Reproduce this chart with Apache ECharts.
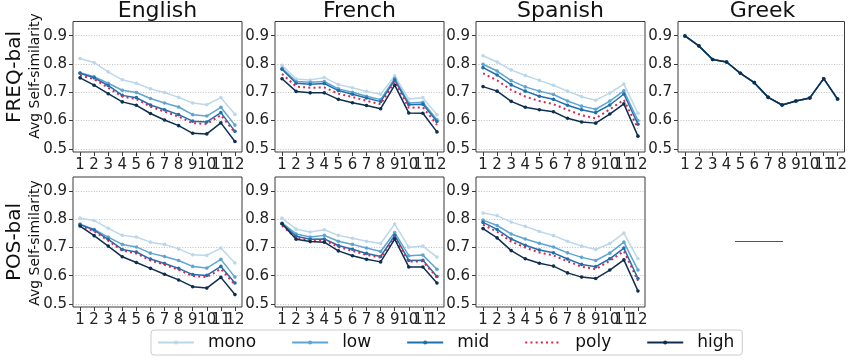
<!DOCTYPE html>
<html>
<head>
<meta charset="utf-8">
<script src="https://cdn.jsdelivr.net/npm/echarts@6/dist/echarts.min.js"></script>
<style>
html,body{margin:0;padding:0;background:#fff;}
#chart{width:850px;height:360px;}
</style>
</head>
<body>
<div id="chart"></div>
<script>
// ---------- data ----------
const categories = ['1','2','3','4','5','6','7','8','9','10','11','12'];
const yTickValues = [0.5, 0.6, 0.7, 0.8, 0.9];
const seriesNames = ['mono', 'low', 'mid', 'poly', 'high'];
const languages = ['English', 'French', 'Spanish', 'Greek'];
const rowLabels = ['FREQ-bal', 'POS-bal'];
const yLabelText = 'Avg Self-similarity';

// FREQ-bal
const freqEnglishMono = [0.819,0.805,0.772,0.744,0.732,0.712,0.699,0.682,0.662,0.656,0.681,0.622];
const freqEnglishLow  = [0.769,0.755,0.732,0.707,0.699,0.678,0.662,0.648,0.621,0.616,0.647,0.584];
const freqEnglishMid  = [0.767,0.751,0.724,0.689,0.681,0.655,0.638,0.621,0.598,0.595,0.628,0.562];
const freqEnglishPoly = [0.760,0.746,0.716,0.685,0.676,0.649,0.632,0.614,0.591,0.588,0.619,0.558];
const freqEnglishHigh = [0.751,0.725,0.695,0.666,0.654,0.625,0.602,0.582,0.555,0.553,0.592,0.526];

const freqFrenchMono = [0.795,0.747,0.743,0.752,0.727,0.716,0.703,0.693,0.758,0.676,0.681,0.621];
const freqFrenchLow  = [0.785,0.738,0.735,0.738,0.712,0.700,0.686,0.674,0.749,0.662,0.665,0.603];
const freqFrenchMid  = [0.781,0.732,0.728,0.731,0.706,0.693,0.680,0.667,0.743,0.656,0.658,0.597];
const freqFrenchPoly = [0.765,0.720,0.716,0.717,0.695,0.683,0.670,0.658,0.738,0.645,0.647,0.585];
const freqFrenchHigh = [0.748,0.703,0.698,0.698,0.675,0.663,0.653,0.642,0.725,0.627,0.626,0.560];

const freqSpanishMono = [0.829,0.807,0.779,0.759,0.742,0.725,0.704,0.684,0.672,0.697,0.729,0.626];
const freqSpanishLow  = [0.799,0.775,0.741,0.719,0.704,0.692,0.669,0.651,0.640,0.669,0.705,0.600];
const freqSpanishMid  = [0.787,0.761,0.726,0.704,0.686,0.675,0.654,0.638,0.628,0.655,0.694,0.587];
const freqSpanishPoly = [0.767,0.742,0.708,0.685,0.669,0.658,0.638,0.619,0.608,0.640,0.673,0.573];
const freqSpanishHigh = [0.720,0.704,0.668,0.647,0.638,0.631,0.608,0.595,0.591,0.623,0.659,0.545];

const freqGreek = [0.899,0.864,0.816,0.807,0.767,0.734,0.682,0.655,0.669,0.680,0.748,0.676];

// POS-bal
const posEnglishMono = [0.804,0.796,0.768,0.743,0.737,0.719,0.711,0.695,0.674,0.672,0.698,0.645];
const posEnglishLow  = [0.783,0.764,0.737,0.711,0.702,0.680,0.668,0.654,0.633,0.627,0.658,0.595];
const posEnglishMid  = [0.781,0.762,0.729,0.693,0.684,0.659,0.643,0.626,0.604,0.601,0.633,0.574];
const posEnglishPoly = [0.777,0.758,0.724,0.689,0.679,0.654,0.639,0.621,0.599,0.595,0.624,0.568];
const posEnglishHigh = [0.776,0.742,0.705,0.667,0.647,0.626,0.605,0.585,0.561,0.556,0.594,0.533];

const posFrenchMono = [0.804,0.765,0.755,0.763,0.743,0.733,0.722,0.714,0.783,0.701,0.705,0.666];
const posFrenchLow  = [0.787,0.748,0.737,0.743,0.722,0.711,0.698,0.686,0.753,0.671,0.673,0.623];
const posFrenchMid  = [0.784,0.740,0.729,0.730,0.707,0.694,0.679,0.668,0.743,0.654,0.655,0.597];
const posFrenchPoly = [0.777,0.735,0.725,0.726,0.702,0.688,0.674,0.664,0.737,0.650,0.651,0.594];
const posFrenchHigh = [0.784,0.729,0.721,0.719,0.688,0.671,0.658,0.649,0.730,0.631,0.631,0.574];

const posSpanishMono = [0.822,0.813,0.790,0.775,0.757,0.742,0.722,0.705,0.693,0.714,0.751,0.660];
const posSpanishLow  = [0.797,0.778,0.748,0.730,0.715,0.702,0.681,0.665,0.654,0.680,0.719,0.620];
const posSpanishMid  = [0.789,0.764,0.730,0.708,0.691,0.681,0.659,0.640,0.632,0.660,0.698,0.590];
const posSpanishPoly = [0.781,0.756,0.721,0.700,0.682,0.672,0.651,0.632,0.623,0.653,0.687,0.582];
const posSpanishHigh = [0.767,0.734,0.689,0.660,0.644,0.634,0.610,0.595,0.590,0.620,0.656,0.546];

// ---------- layout / style ----------
const FONT = 'DejaVu Sans';
const colors = {mono:'#bcd7ea', low:'#5ea5d1', mid:'#1f6fae', poly:'#d7264f', high:'#0e2e4f'};
const colLeft = [73, 275, 476, 678];
const colWidth = 169;
const rowTop = [21.5, 177];
const rowHeight = [130.5, 130];

const panels = [
  {row:0, col:0, title:'English', d:[freqEnglishMono, freqEnglishLow, freqEnglishMid, freqEnglishPoly, freqEnglishHigh]},
  {row:0, col:1, title:'French',  d:[freqFrenchMono, freqFrenchLow, freqFrenchMid, freqFrenchPoly, freqFrenchHigh]},
  {row:0, col:2, title:'Spanish', d:[freqSpanishMono, freqSpanishLow, freqSpanishMid, freqSpanishPoly, freqSpanishHigh]},
  {row:0, col:3, title:'Greek',   d:[freqGreek, freqGreek, freqGreek, null, freqGreek]},
  {row:1, col:0, title:null, d:[posEnglishMono, posEnglishLow, posEnglishMid, posEnglishPoly, posEnglishHigh]},
  {row:1, col:1, title:null, d:[posFrenchMono, posFrenchLow, posFrenchMid, posFrenchPoly, posFrenchHigh]},
  {row:1, col:2, title:null, d:[posSpanishMono, posSpanishLow, posSpanishMid, posSpanishPoly, posSpanishHigh]}
];

const grid = [], xAxis = [], yAxis = [], series = [], graphic = [];

panels.forEach((p, i) => {
  grid.push({
    left: colLeft[p.col], top: rowTop[p.row], width: colWidth, height: rowHeight[p.row],
    show: true, borderColor: '#3a3a3a', borderWidth: 1, backgroundColor: 'transparent'
  });
  xAxis.push({
    type: 'category', gridIndex: i, data: categories, boundaryGap: true,
    axisLine: {show: false},
    axisTick: {show: true, alignWithLabel: true, length: 4, lineStyle: {color: '#3a3a3a'}},
    axisLabel: {interval: 0, fontFamily: FONT, fontSize: 15, color: '#222', margin: 6},
    splitLine: {show: false}
  });
  yAxis.push({
    type: 'value', gridIndex: i, min: 0.489, max: 0.95,
    axisLine: {show: false},
    axisTick: {show: true, length: 4, lineStyle: {color: '#3a3a3a'}, customValues: yTickValues},
    axisLabel: {fontFamily: FONT, fontSize: 15, color: '#222', margin: 6, customValues: yTickValues,
      formatter: v => v.toFixed(1)},
    splitLine: {show: true, lineStyle: {color: '#b0b0b0', width: 0.8, type: [1, 1.6]}}
  });
  seriesNames.forEach((name, k) => {
    const vals = p.d[k];
    if (!vals) return;
    const isPoly = name === 'poly';
    series.push({
      type: 'line', name: name, xAxisIndex: i, yAxisIndex: i, data: vals,
      symbol: isPoly ? 'none' : 'circle', symbolSize: 3.6, showSymbol: !isPoly,
      lineStyle: {color: colors[name], width: isPoly ? 2 : 1.5, type: isPoly ? [2, 3.2] : 'solid'},
      itemStyle: {color: colors[name]},
      emphasis: {disabled: true}, animation: false, z: 2 + k
    });
  });
  if (p.title) {
    graphic.push({type: 'text', x: colLeft[p.col] + colWidth / 2, y: 11,
      style: {text: p.title, font: '22px "' + FONT + '"', fill: '#111', textAlign: 'center', textVerticalAlign: 'middle'}});
  }
});

// row labels
const rowLabelY = [[77, 76], [242, 243]];
rowLabels.forEach((t, r) => {
  graphic.push({type: 'text', x: 15, y: rowLabelY[r][0], rotation: Math.PI / 2,
    style: {text: t, font: '20px "' + FONT + '"', fill: '#111', textAlign: 'center', textVerticalAlign: 'middle'}});
  graphic.push({type: 'text', x: 35, y: rowLabelY[r][1], rotation: Math.PI / 2,
    style: {text: yLabelText, font: '14px "' + FONT + '"', fill: '#111', textAlign: 'center', textVerticalAlign: 'middle'}});
});

// stray short line present in the empty lower-right area of the reference
graphic.push({type: 'line', shape: {x1: 735, y1: 241.5, x2: 783, y2: 241.5},
  style: {stroke: '#555', lineWidth: 1}});

const legendData = seriesNames.map(n => n === 'poly'
  ? {name: n, itemStyle: {color: 'rgba(0,0,0,0)', borderWidth: 0}}
  : {name: n});

const chart = echarts.init(document.getElementById('chart'), null, {renderer: 'canvas'});
chart.setOption({
  animation: false,
  backgroundColor: '#fff',
  grid, xAxis, yAxis, series, graphic,
  legend: {
    data: legendData, left: 151, top: 330, orient: 'horizontal',
    itemWidth: 36, itemHeight: 5, itemGap: 35,
    padding: [4, 8, 4, 6],
    borderColor: '#cccccc', borderWidth: 1, borderRadius: 3,
    textStyle: {fontFamily: FONT, fontSize: 17, color: '#111', padding: [0, 0, 0, 9]},
    selectedMode: false
  }
});
</script>
</body>
</html>
